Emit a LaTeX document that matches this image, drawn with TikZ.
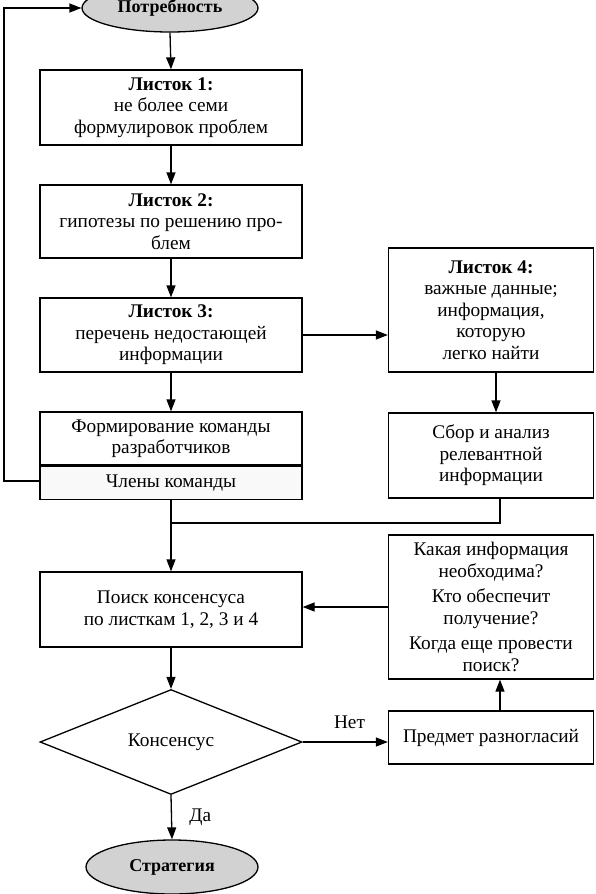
\documentclass[tikz,border=0pt]{standalone}
\usepackage{fontspec}
\setmainfont{Liberation Serif}
\usetikzlibrary{shapes.geometric,arrows.meta}
\begin{document}
\begin{tikzpicture}[x=1pt,y=-1pt,
  every node/.style={font=\fontsize{19.3}{21.5}\selectfont},
  blk/.style={draw,line width=1.3pt,rectangle,align=center,inner sep=2pt},
  lbox/.style={blk,minimum width=262pt},
  rbox/.style={blk,minimum width=205pt},
  term/.style={draw,line width=1.3pt,ellipse,fill=gray!35,inner sep=0pt,font=\fontsize{18}{21}\selectfont\bfseries},
  conn/.style={line width=1.3pt},
  arr/.style={conn,-{Triangle[length=12pt,width=9pt]}},
  lbl/.style={font=\fontsize{19.3}{21.5}\selectfont}
]
\useasboundingbox (0,0) rectangle (595,894);
\node[term,minimum width=176pt,minimum height=48pt] (need) at (170,8) {Потребность};
\node[lbox,minimum height=75pt] (b1) at (171,107.5) {\textbf{Листок 1:}\\не более семи\\формулировок проблем};
\node[lbox,minimum height=73pt] (b2) at (171,221.5) {\textbf{Листок 2:}\\гипотезы по решению про-\\блем};
\node[lbox,minimum height=74pt] (b3) at (171,335) {\textbf{Листок 3:}\\перечень недостающей\\информации};
\node[lbox,minimum height=53pt] (t1) at (171,438.5) {Формирование команды\\разработчиков};
\node[lbox,minimum height=33pt,fill=gray!5,anchor=north] (t2) at (t1.south) {Члены команды};
\node[rbox,minimum height=124pt] (b4) at (491,310) {\textbf{Листок 4:}\\важные данные;\\информация,\\которую\\легко найти};
\node[rbox,minimum height=85pt] (sb) at (491,455.5) {Сбор и анализ\\релевантной\\информации};
\node[lbox,minimum height=75pt] (b5) at (171,609.5) {Поиск консенсуса\\по листкам 1, 2, 3 и 4};
\node[rbox,minimum height=144pt] (q) at (491,607) {Какая информация\\необходима?\\[4pt]Кто обеспечит\\получение?\\[4pt]Когда еще провести\\поиск?};
\node[draw,line width=1.3pt,diamond,minimum width=262pt,minimum height=105pt,inner sep=0pt] (d) at (171,742) {Консенсус};
\node[rbox,minimum height=53pt] (pr) at (491,737.5) {Предмет разногласий};
\node[term,minimum width=172pt,minimum height=54pt] (str) at (172,867) {Стратегия};
\coordinate (fb) at (4,481);
\coordinate (j) at (171,523);
\draw[arr] (need.south) -- (b1.north);
\draw[arr] (b1) -- (b2);
\draw[arr] (b2) -- (b3);
\draw[arr] (b3) -- (t1);
\draw[arr] (t2.west |- fb) -- (fb) |- (need.west);
\draw[arr] (b3.east) -- (b3.east -| b4.west);
\draw[arr] ([xshift=5pt]b4.south) -- ([xshift=5pt]sb.north);
\draw[conn] ([xshift=9pt]sb.south) |- (j);
\draw[arr] (t2.south) -- (b5.north);
\draw[arr] (q.west) -- (q.west -| b5.east);
\draw[arr] (b5.south) -- (d.north);
\draw[arr] (d.east) -- (d.east -| pr.west) node[lbl,pos=0.55,above=9pt] {Нет};
\draw[arr] ([xshift=9pt]pr.north) -- ([xshift=9pt]q.south);
\draw[arr] (d.south) -- (str.north) node[lbl,midway,right=14pt] {Да};
\end{tikzpicture}
\end{document}
